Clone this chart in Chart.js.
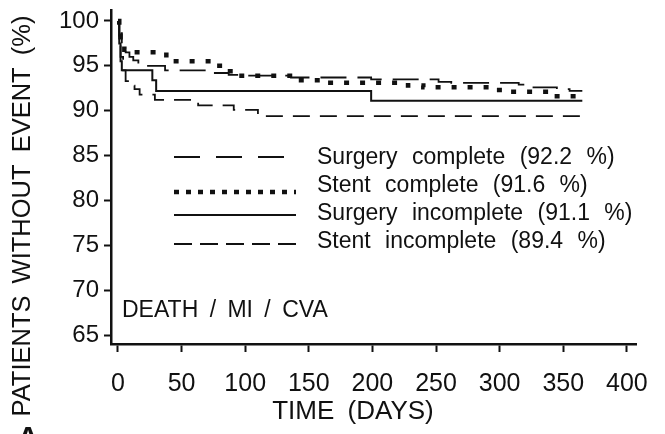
<!DOCTYPE html>
<html>
<head>
<meta charset="utf-8">
<title>Death / MI / CVA</title>
<script src="https://cdn.jsdelivr.net/npm/chart.js@4.4.1/dist/chart.umd.min.js"></script>
<style>
  html, body { margin: 0; padding: 0; background: #fff; }
  #wrap { width: 665px; height: 434px; position: relative; }
</style>
</head>
<body>
<div id="wrap"><canvas id="kmChart"></canvas></div>
<script>
// Kaplan-Meier: patients without event, by treatment group

const seriesNames = [
  "Surgery complete (92.2 %)",
  "Stent complete (91.6 %)",
  "Surgery incomplete (91.1 %)",
  "Stent incomplete (89.4 %)"
];

// step points: day of event, % without event after it
const surgeryCompleteDays = [0, 1, 3, 6, 9, 12, 16, 20, 37, 72, 87, 98, 136, 199, 252, 262, 315, 320, 345, 355, 365];
const surgeryCompleteSurv = [100, 98.5, 97.0, 96.5, 96.0, 95.6, 95.2, 95.0, 94.5, 94.2, 94.0, 93.9, 93.7, 93.5, 93.2, 93.1, 92.9, 92.6, 92.4, 92.2, 92.2];

const stentCompleteDays = [0, 1, 2, 5, 8, 38, 75, 84, 92, 137, 165, 228, 240, 295, 308, 340, 365];
const stentCompleteSurv = [100, 98.5, 97.5, 96.8, 96.5, 95.5, 95.0, 94.4, 93.9, 93.4, 93.1, 92.8, 92.6, 92.3, 92.1, 91.6, 91.6];

const surgeryIncompleteDays = [0, 1, 2, 3, 27, 30, 199, 365];
const surgeryIncompleteSurv = [100, 97.5, 95.5, 94.5, 93.4, 92.2, 91.1, 91.1];

const stentIncompleteDays = [0, 1, 2, 4, 6, 9, 13, 17, 29, 63, 91, 110, 365];
const stentIncompleteSurv = [100, 98, 96, 94.5, 93.3, 92.8, 92.4, 91.8, 91.2, 90.6, 90.1, 89.4, 89.4];

const xTicks = [0, 50, 100, 150, 200, 250, 300, 350, 400];
const yTicks = [65, 70, 75, 80, 85, 90, 95, 100];

const xTitle = "TIME (DAYS)";
const yTitle = "PATIENTS WITHOUT EVENT (%)";
const endpointLabel = "DEATH / MI / CVA";
const panelLetter = "A";

const FONT = '"Liberation Sans", Arial, Helvetica, sans-serif';
const INK = '#111';

function toPoints(days, surv) {
  return days.map((d, i) => ({ x: d, y: surv[i] }));
}

// texts and the inset legend
const overlay = {
  id: 'overlay',
  afterDraw(chart) {
    const ctx = chart.ctx;
    ctx.save();
    ctx.fillStyle = INK;
    ctx.strokeStyle = INK;
    ctx.textBaseline = 'middle';

    // y title
    ctx.save();
    ctx.translate(23, 216);
    ctx.rotate(-Math.PI / 2);
    ctx.textAlign = 'center';
    ctx.font = '25.5px ' + FONT;
    ctx.wordSpacing = '5px';
    ctx.fillText(yTitle, 0, 0);
    ctx.restore();

    // x title
    ctx.textAlign = 'center';
    ctx.font = '26px ' + FONT;
    ctx.wordSpacing = '6px';
    ctx.fillText(xTitle, 353, 412);

    // endpoint
    ctx.textAlign = 'left';
    ctx.font = '23px ' + FONT;
    ctx.wordSpacing = '5px';
    ctx.fillText(endpointLabel, 122, 311);

    // legend
    const lineY = [157, 192, 215, 244];
    const textY = [158, 186, 214, 242];
    chart.data.datasets.forEach((ds, i) => {
      ctx.save();
      ctx.lineWidth = ds.borderWidth;
      ctx.setLineDash(ds.legendDash || []);
      ctx.lineCap = 'butt';
      ctx.beginPath();
      ctx.moveTo(174, lineY[i]);
      ctx.lineTo(296, lineY[i]);
      ctx.stroke();
      ctx.restore();
      ctx.font = '23px ' + FONT;
      ctx.wordSpacing = '8px';
      ctx.fillText(ds.label, 317, textY[i]);
    });

    // panel letter, cut off at the bottom edge
    ctx.textBaseline = 'alphabetic';
    ctx.textAlign = 'center';
    ctx.font = 'bold 30px ' + FONT;
    ctx.wordSpacing = '0px';
    ctx.fillText(panelLetter, 28, 447);
    ctx.restore();
  }
};

function zeroPadding(s) {
  s.paddingLeft = 0; s.paddingRight = 0; s.paddingTop = 0; s.paddingBottom = 0;
}

new Chart(document.getElementById('kmChart'), {
  type: 'line',
  data: {
    datasets: [
      {
        label: seriesNames[0],
        data: toPoints(surgeryCompleteDays, surgeryCompleteSurv),
        borderWidth: 1.8, borderDash: [26, 11], legendDash: [26, 16]
      },
      {
        label: seriesNames[1],
        data: toPoints(stentCompleteDays, stentCompleteSurv),
        borderWidth: 4.5, borderDash: [5, 11], legendDash: [5, 7]
      },
      {
        label: seriesNames[2],
        data: toPoints(surgeryIncompleteDays, surgeryIncompleteSurv),
        borderWidth: 2, borderDash: [], legendDash: []
      },
      {
        label: seriesNames[3],
        data: toPoints(stentIncompleteDays, stentIncompleteSurv),
        borderWidth: 1.8, borderDash: [17, 10], legendDash: [18, 8]
      }
    ].map(ds => Object.assign(ds, {
      borderColor: INK, backgroundColor: INK, fill: false,
      stepped: true, pointRadius: 0, borderCapStyle: 'butt'
    }))
  },
  options: {
    responsive: true,
    maintainAspectRatio: false,
    animation: false,
    layout: { padding: { top: 10, right: 29, bottom: 0, left: 0 } },
    plugins: { legend: { display: false }, tooltip: { enabled: false } },
    scales: {
      x: {
        type: 'linear',
        min: -5.5,
        max: 407.2,
        afterBuildTicks: s => { s.ticks = xTicks.map(v => ({ value: v })); },
        afterFit: s => { s.height = 90; zeroPadding(s); },
        grid: { drawOnChartArea: false, drawTicks: true, tickLength: 8, tickWidth: 2, tickColor: INK },
        border: { display: true, color: INK, width: 2.5 },
        ticks: { color: INK, font: { family: FONT, size: 25 }, padding: 17, maxRotation: 0, autoSkip: false }
      },
      y: {
        type: 'linear',
        min: 64,
        max: 101.22,
        afterBuildTicks: s => { s.ticks = yTicks.map(v => ({ value: v })); },
        afterFit: s => { s.width = 111; zeroPadding(s); },
        grid: { drawOnChartArea: false, drawTicks: true, tickLength: 7, tickWidth: 2, tickColor: INK },
        border: { display: true, color: INK, width: 2.5 },
        ticks: { color: INK, font: { family: FONT, size: 24 }, padding: 5, autoSkip: false }
      }
    }
  },
  plugins: [overlay]
});
</script>
</body>
</html>
